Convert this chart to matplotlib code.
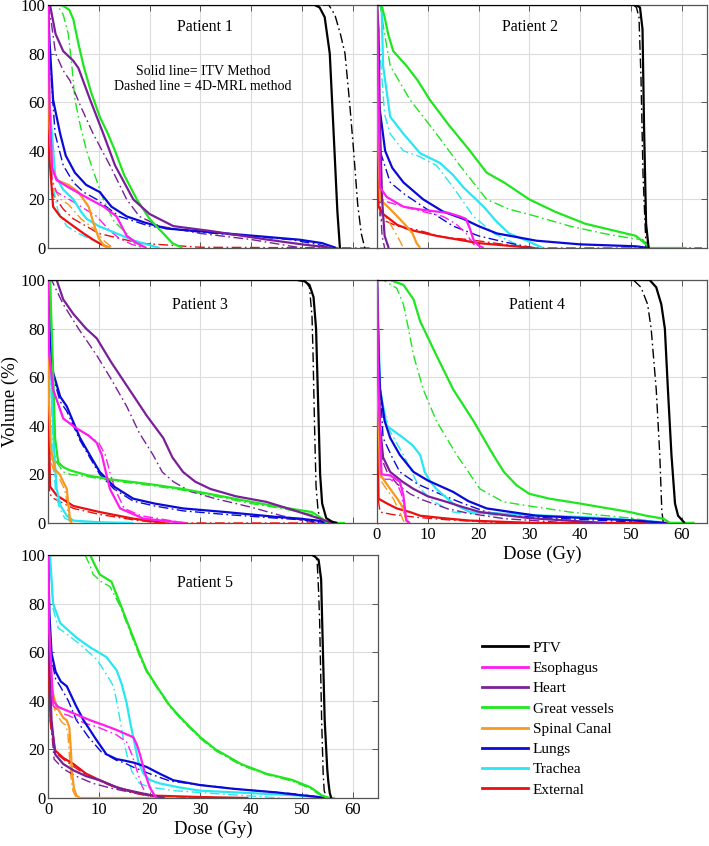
import matplotlib
matplotlib.use("Agg")
import matplotlib.pyplot as plt
from matplotlib.lines import Line2D

plt.rcParams['font.family'] = ['Liberation Serif', 'DejaVu Serif']

structures = ["PTV", "Esophagus", "Heart", "Great vessels", "Spinal Canal", "Lungs", "Trachea", "External"]
colors = ["#000000", "#ff1cf0", "#7a1f9a", "#1fe61f", "#f7981f", "#0a0ad8", "#2ae6f2", "#e81010"]
patients = ["Patient 1", "Patient 2", "Patient 3", "Patient 4", "Patient 5"]
x_ticks = [0, 10, 20, 30, 40, 50, 60]
y_ticks = [0, 20, 40, 60, 80, 100]

# ---------------- Patient 1 (dose Gy, volume %) ----------------
p1_ptv_itv = [(0, 100), (52.5, 100), (53.5, 99), (54.5, 95), (55.5, 80), (56.2, 50), (57, 15), (57.5, 0)]
p1_ptv_4d = [(0, 100), (55.3, 100), (56.5, 96), (57.6, 88), (58.5, 80), (59.4, 60), (60.2, 40), (61, 18), (61.7, 6), (62.4, 0)]
p1_eso_itv = [(0, 100), (0.3, 60), (0.8, 33), (1.7, 28), (4, 25), (8.3, 20), (11, 17), (13.5, 13), (14.5, 9), (15.5, 5), (17.5, 2), (19.4, 0)]
p1_eso_4d = [(0, 100), (0.3, 50), (0.8, 28), (1.7, 23), (5, 19), (9.6, 13), (12, 7.5), (14, 4), (16.5, 1.5), (19, 0)]
p1_heart_itv = [(0, 100), (0.4, 100), (1.5, 88), (3, 81), (5, 77), (6, 74), (8.3, 61), (10.9, 47), (13.2, 34), (16.8, 20), (20, 14), (24.7, 9), (32, 7), (43, 3.5), (50, 1.5), (56, 0)]
p1_heart_4d = [(0, 100), (0.5, 95), (1.5, 80), (3, 73), (4.3, 69), (6.5, 58), (8.9, 47), (12.2, 34), (15.5, 20), (18, 13), (22, 9), (30, 6), (40, 3.5), (50, 0)]
p1_gv_itv = [(0, 100), (1.5, 100), (2.7, 100), (4.2, 98), (5, 94), (6, 84), (7, 75), (8.5, 64), (10.2, 54), (11.8, 47), (13.2, 40), (15, 30), (17.5, 20), (20, 12), (22.7, 6), (24.5, 2), (26.5, 0)]
p1_gv_4d = [(0, 100), (1.8, 100), (3, 96), (4, 88), (4.7, 75), (5.3, 61), (6.4, 50), (7.6, 40), (9.2, 30), (10.9, 20), (13, 11), (15.5, 6), (17, 2), (18.5, 0)]
p1_sc_itv = [(0, 100), (0.3, 50), (0.8, 33), (1.7, 28), (4, 26), (6, 23), (7, 20), (8, 17), (9, 10), (10, 4), (11, 1), (12.2, 0)]
p1_sc_4d = [(0, 100), (0.3, 40), (1, 25), (2.5, 20), (4, 18), (6.5, 12), (9, 8), (11, 3), (12.8, 0)]
p1_lung_itv = [(0, 100), (0.3, 85), (1, 61), (2.4, 47), (3.5, 38), (5.3, 31), (7.5, 26), (10.2, 23), (12.5, 17), (15.5, 13), (19, 10.5), (23.4, 8), (35, 6), (49.6, 3.4), (54, 2), (56.8, 0)]
p1_lung_4d = [(0, 100), (0.3, 80), (1.4, 47), (3, 34), (5, 27), (7, 23), (9.6, 20), (14, 13), (20, 9), (30, 6.5), (42, 4.5), (48, 3.4), (53, 1.5), (56, 0)]
p1_tra_itv = [(0, 100), (0.3, 60), (1.4, 30), (3, 24), (5, 20), (6.5, 15), (7.6, 12), (10, 9), (13.5, 6), (17, 3), (22, 0)]
p1_tra_4d = [(0, 100), (0.2, 50), (1, 25), (2, 15), (3.7, 9), (6, 6), (9, 3), (12.2, 0)]
p1_ext_itv = [(0, 100), (0.2, 40), (1, 17), (2.4, 13), (5, 9), (7, 6), (8.9, 3.4), (10.5, 1.5), (12.2, 0)]
p1_ext_4d = [(0, 100), (0.2, 45), (1, 22), (3, 16), (5, 12), (10, 6), (18, 2), (30, 0.3), (64, 0)]

# ---------------- Patient 2 ----------------
p2_ptv_itv = [(0, 100), (51, 100), (51.8, 99), (52.3, 90), (52.6, 50), (53, 10), (53.5, 0)]
p2_ptv_4d = [(0, 100), (50.5, 100), (51.1, 99), (51.6, 95), (52, 70), (52.4, 30), (53, 0)]
p2_eso_itv = [(0, 100), (0.3, 60), (0.6, 25), (1.9, 21), (5.2, 17), (8, 16), (11.7, 15), (14, 14.5), (16.3, 13), (17.5, 12), (18.3, 8), (19, 3.4), (20, 1), (21, 0)]
p2_eso_4d = [(0, 100), (0.3, 50), (0.6, 20), (2, 19), (5.2, 17), (9, 15), (13, 13), (15.5, 10), (17.6, 6), (18.5, 3), (19.6, 0)]
p2_heart_itv = [(0, 100), (0.3, 90), (0.6, 50), (1, 20), (1.5, 5), (2.3, 0)]
p2_heart_4d = [(0, 100), (0.3, 60), (0.6, 20), (1, 5), (1.5, 0)]
p2_gv_itv = [(0, 100), (0.9, 100), (1.5, 95), (2.2, 88), (3.2, 81), (5.8, 75), (8, 69), (10.4, 61), (14, 51), (18.3, 40), (21.6, 31), (25, 27), (30, 20), (35, 15), (41, 10), (46, 7.5), (51, 5), (53, 1.5), (53.7, 0), (61, 0)]
p2_gv_4d = [(0, 100), (0.6, 100), (1.5, 88), (2.6, 75), (6.5, 61), (11.7, 47), (16.3, 34), (21.6, 20), (26, 16), (31.4, 13), (38, 9), (44.6, 6), (50, 4), (52.4, 3.4), (53.5, 0)]
p2_lung_itv = [(0, 100), (0.3, 61), (1.6, 40), (3, 33), (5.2, 27), (9.1, 20), (13, 15), (17, 12), (20, 9), (23.6, 6), (31.4, 3), (40, 1.5), (51, 0.7), (53.5, 0)]
p2_lung_4d = [(0, 100), (0.3, 55), (0.6, 40), (2.6, 27), (5.5, 22), (9.1, 17), (12, 13), (15, 9), (20, 5), (25, 2.5), (31, 0)]
p2_tra_itv = [(0, 100), (0.9, 100), (1.2, 75), (2.6, 54), (5.2, 47), (8.5, 39), (12.4, 35), (15, 30), (17, 25), (21, 17), (23.5, 11), (26, 6), (29.5, 3), (32.7, 0)]
p2_tra_4d = [(0, 100), (0.6, 80), (1.5, 55), (2.6, 47), (5.2, 40), (8, 38), (11.7, 34), (15, 25), (19, 13), (23, 6), (26, 3), (28.8, 0)]
p2_sc_itv = [(0, 100), (0.3, 40), (0.6, 20), (2.6, 16), (4, 13), (5.8, 9), (7, 6), (7.8, 2), (8.5, 0)]
p2_sc_4d = [(0, 100), (0.3, 30), (0.6, 15), (2, 12), (4, 5), (5.2, 0)]
p2_ext_itv = [(0, 100), (0.1, 40), (0.3, 17), (1.2, 14), (4, 9.5), (6.5, 7.5), (11.7, 5), (20, 2), (31, 0)]
p2_ext_4d = [(0, 100), (0.1, 35), (0.6, 12), (4, 9), (7.8, 7.5), (13, 4.5), (18.3, 3.4), (25, 1.5), (31, 0), (64, 0)]

# ---------------- Patient 3 ----------------
p3_ptv_itv = [(0, 100), (49, 100), (50.5, 99.5), (51.5, 98), (52.3, 93), (52.8, 80), (53.2, 50), (53.6, 20), (54, 8), (54.8, 2), (56, 0.5), (57, 0)]
p3_ptv_4d = [(0, 100), (49, 100), (50.7, 99.5), (51.5, 97), (52, 85), (52.2, 70), (52.5, 40), (52.8, 15), (53.2, 5), (53.7, 1), (54.3, 0)]
p3_eso_itv = [(0, 100), (0.2, 70), (1, 55), (3, 43), (5.6, 39), (8, 36), (9.6, 33), (10.6, 28), (11.5, 20), (12.2, 14), (14.2, 6), (18.8, 1.8), (27, 0)]
p3_eso_4d = [(0, 100), (0.2, 70), (1, 55), (3, 43), (5.6, 39), (8, 36), (10, 33), (11.3, 28), (12.3, 20), (13.2, 14), (15, 6), (18.3, 3), (27, 0)]
p3_heart_itv = [(0, 100), (1.7, 100), (3, 92), (5, 86), (7.5, 80), (9.6, 76), (12.5, 66), (16, 55), (19.5, 44), (22.7, 35), (24.5, 27), (26.6, 21), (29, 17), (32, 14), (37, 11), (43, 8.7), (48, 5.5), (53.5, 1.8), (56, 0)]
p3_heart_4d = [(0, 100), (0.7, 100), (3, 90), (6, 80), (9.6, 69), (12.5, 59), (15.5, 48), (18, 37), (20.7, 28), (22.5, 21), (24.7, 17), (28, 13), (33, 10), (40, 6.5), (46, 3), (52.5, 0)]
p3_gv_itv = [(0, 100), (0.4, 100), (0.9, 69), (1.4, 35), (2, 25), (3, 23), (4.3, 21.7), (8, 19.5), (12.2, 18), (20, 16), (26.6, 14), (33, 11.5), (40, 8.7), (46, 6.5), (52, 4.5), (54, 1.8), (55, 0), (58.5, 0)]
p3_gv_4d = [(0, 100), (0.4, 100), (0.8, 65), (1.2, 30), (1.7, 25), (3, 21), (4.5, 20), (8, 19), (12.2, 17.5), (20, 15.5), (26.6, 13.5), (33, 11), (40, 8), (46, 6), (52, 3.5), (54, 1), (55, 0)]
p3_sc_itv = [(0, 100), (0.2, 50), (0.6, 30), (1.4, 22), (2.3, 20), (3, 17), (3.7, 14), (4.1, 6), (4.3, 2), (4.7, 0)]
p3_sc_4d = [(0, 100), (0.2, 45), (0.6, 25), (1.4, 20), (2.3, 18), (3, 15), (3.5, 12), (3.9, 5), (4.2, 1), (4.6, 0)]
p3_lung_itv = [(0, 100), (0.3, 80), (1, 62), (2.4, 52), (3.7, 48), (6.3, 35), (8.5, 27), (10.2, 21), (13, 15), (16.8, 10), (21, 8), (26.6, 6), (35, 4.5), (45, 2.5), (49.6, 1.8), (53, 1), (55, 0)]
p3_lung_4d = [(0, 100), (0.3, 78), (1, 60), (2.4, 50), (3.7, 46), (6.3, 34), (8.5, 26), (10.2, 20), (13, 14), (16.8, 9), (21, 7), (26.6, 5), (35, 3.5), (45, 2), (50, 1.3), (54, 0)]
p3_tra_itv = [(0, 100), (0.4, 100), (0.7, 55), (1.2, 30), (1.7, 14), (2.5, 7), (3.7, 3), (5, 1), (10, 0.3), (16.8, 0)]
p3_tra_4d = [(0, 100), (0.3, 100), (0.6, 55), (1, 28), (1.5, 12), (2.3, 6), (3.3, 2), (4.5, 0.8), (10, 0.2), (16, 0)]
p3_ext_itv = [(0, 100), (0.1, 50), (0.4, 15), (1.7, 11.4), (5, 7), (10.2, 4.5), (16.8, 1.8), (23, 0)]
p3_ext_4d = [(0, 100), (0.1, 45), (0.3, 12), (1.2, 10), (5, 6), (10.2, 3.5), (16.8, 1.3), (22, 0), (58, 0)]

# ---------------- Patient 4 ----------------
p4_ptv_itv = [(0, 100), (53.7, 100), (55, 97), (56, 90), (56.7, 80), (57.3, 55), (58, 28), (58.7, 8), (59.3, 3), (60.6, 0)]
p4_ptv_4d = [(0, 100), (50.5, 100), (52, 97), (53.3, 90), (54, 80), (55, 55), (55.7, 28), (56.1, 5), (56.4, 0)]
p4_eso_itv = [(0, 100), (0.2, 60), (0.9, 20), (2.6, 19.6), (4.5, 17), (5.2, 11.4), (5.6, 4), (5.8, 1), (6.5, 0)]
p4_eso_4d = [(0, 100), (0.2, 55), (0.9, 18), (2.6, 18), (4, 16), (4.8, 12), (5.4, 4), (5.8, 1), (6.2, 0)]
p4_heart_itv = [(0, 100), (0.3, 70), (0.6, 40), (1.2, 27), (2.6, 21), (5, 17), (7.2, 14), (10, 11), (13.7, 8.7), (17, 6.5), (20.3, 4.5), (30, 2), (45, 0)]
p4_heart_4d = [(0, 100), (0.3, 60), (0.6, 35), (1.2, 25), (2, 21), (4, 16), (6.5, 12), (9, 9.5), (13.7, 6), (18, 4), (25, 1.8), (38, 0)]
p4_gv_itv = [(0, 100), (2.6, 100), (5.2, 98), (7.2, 92), (8.5, 83), (11.7, 69), (15, 55), (19, 42), (22.9, 28), (25, 21), (27.5, 15.5), (30, 12), (34, 10), (40, 8), (49.8, 4.5), (53, 3), (56.4, 1.8), (57.7, 0), (62.5, 0)]
p4_gv_4d = [(0, 100), (1.2, 100), (3.9, 96.6), (5.2, 90), (6.2, 80), (7.2, 69), (9.1, 55), (11.7, 42), (15.7, 28), (20.3, 14), (24.9, 8.7), (30, 7), (38, 4.5), (50, 2), (56.5, 0)]
p4_sc_itv = [(0, 100), (0.2, 50), (0.6, 20), (2.6, 14), (4, 10), (5.2, 6), (5.8, 1), (6.2, 0)]
p4_sc_4d = [(0, 100), (0.2, 45), (0.9, 17), (2.2, 13), (3.2, 10), (4.4, 5), (5.2, 1), (5.5, 0)]
p4_lung_itv = [(0, 100), (0.3, 70), (0.6, 55), (1.5, 42), (2.6, 35), (4.5, 28), (7.2, 21), (10, 17.5), (15, 12.8), (18, 9), (21.6, 6), (31.4, 3), (45, 1.6), (51, 1), (57, 0)]
p4_lung_4d = [(0, 100), (0.3, 65), (0.8, 50), (1.2, 35), (3, 27), (4.5, 21), (8, 16), (13, 11.4), (17, 8), (21.6, 4.5), (30, 2.5), (45, 1), (54.5, 0)]
p4_tra_itv = [(0, 100), (0.3, 80), (0.6, 55), (1.9, 40), (5.2, 35), (7, 32), (8.5, 28), (9.4, 21), (10.5, 17), (11.7, 14), (15, 8), (18.3, 4.5), (25, 3.8), (31.4, 3.2), (45, 2), (55, 0.5), (56.5, 0)]
p4_tra_4d = [(0, 100), (0.3, 70), (0.9, 50), (2.5, 38), (5.2, 28), (8.5, 14), (11, 9), (15, 4.5), (25, 3), (35, 1.8), (44.5, 0)]
p4_ext_itv = [(0, 100), (0.1, 40), (0.3, 10), (2, 8), (3.9, 6), (6.5, 4.5), (8.5, 3), (13, 2), (18.3, 1), (31, 0), (62.5, 0)]
p4_ext_4d = [(0, 100), (0.1, 35), (0.3, 9), (0.6, 4.5), (3, 3.5), (8, 2.3), (14, 1.3), (25, 0)]

# ---------------- Patient 5 ----------------
p5_ptv_itv = [(0, 100), (52.2, 100), (53.3, 98), (53.8, 90), (54, 73), (54.5, 32), (55, 12), (55.2, 7), (55.5, 2), (55.8, 0)]
p5_ptv_4d = [(0, 100), (52, 100), (53, 98), (53.3, 85), (53.5, 73), (53.9, 32), (54.2, 10), (54.4, 3), (54.9, 0)]
p5_eso_itv = [(0, 100), (0.2, 70), (1, 40), (2, 37.5), (3.7, 36), (6, 34), (8.3, 32), (11, 30), (13.5, 28), (16.8, 25), (17.5, 22), (18.1, 18), (19, 11), (20, 4.5), (21, 1), (21.4, 0)]
p5_eso_4d = [(0, 100), (0.2, 65), (1, 38), (2.5, 35), (4, 34), (7, 31), (10, 29), (13.5, 26), (15.5, 23), (16.5, 18), (17.5, 11.4), (18.5, 5), (19.5, 1), (19.8, 0)]
p5_heart_itv = [(0, 100), (0.2, 60), (0.7, 32), (1.4, 18), (3, 14), (5, 11.4), (7.5, 9), (10.2, 7.3), (14, 4), (18.8, 1.8), (23, 0)]
p5_heart_4d = [(0, 100), (0.2, 55), (0.6, 30), (1.2, 16), (3, 12), (5.5, 9), (8.9, 6), (12.5, 4), (17, 2), (22, 0)]
p5_gv_itv = [(0, 100), (8.3, 100), (9.2, 96), (10.2, 92), (12.5, 89), (14.2, 80), (16.8, 66), (18.3, 58), (19.4, 52.6), (21.4, 46), (24, 38), (26.6, 32), (30, 25), (33, 20), (38, 14), (43, 10), (48, 7.5), (51.6, 4.5), (53, 2.5), (54, 1), (55.5, 0), (56.5, 0)]
p5_gv_4d = [(0, 100), (7.3, 100), (8.2, 96), (8.9, 92), (10.5, 89), (12.2, 87), (14.2, 79), (16.8, 65), (18.3, 57), (19.4, 52), (21.4, 45.5), (24, 37.5), (26.6, 31.5), (30, 24.5), (33, 19.5), (38, 13.5), (43, 9.7), (48, 7), (51.6, 4), (53, 2), (54, 0.8), (55, 0)]
p5_sc_itv = [(0, 100), (0.2, 70), (0.7, 45), (1.7, 37.5), (3, 33), (3.7, 32), (4.2, 29), (4.5, 20), (4.7, 11.4), (5.1, 4), (5.6, 1), (6.3, 0), (25, 0)]
p5_sc_4d = [(0, 100), (0.2, 65), (0.6, 42), (1.5, 35), (2.8, 31), (3.5, 30), (3.9, 27), (4.2, 18), (4.5, 9), (4.9, 3), (5.4, 0.8), (6, 0)]
p5_lung_itv = [(0, 100), (0.3, 75), (0.7, 59.5), (1.5, 52), (2.5, 48), (3.7, 46), (5.5, 38), (7, 32), (9.5, 24), (11.5, 18), (13.5, 16), (14.8, 15.5), (17, 14.5), (19.4, 12.8), (22, 10), (24.7, 7.3), (30, 5.3), (36.5, 3.8), (45, 2.3), (49.6, 1.2), (53, 0.5), (54.5, 0)]
p5_lung_4d = [(0, 100), (0.3, 72), (0.7, 57), (1.5, 49), (2.4, 46), (4, 40), (5.6, 32), (8, 25), (10.5, 19), (13.5, 15.5), (15, 14.5), (17, 12.5), (20, 10), (24, 7), (29.5, 5.5), (38, 3.5), (48, 1.8), (52.5, 0.7), (54, 0)]
p5_tra_itv = [(0, 100), (0.4, 100), (1, 80), (2.4, 72), (4, 69), (5.6, 66), (8.3, 62), (11.5, 58), (13.5, 52.6), (14.5, 47), (15.5, 39), (16.2, 31), (16.8, 25), (17.8, 15), (18.8, 10), (20, 7.5), (22, 6), (26, 4.3), (30, 3), (40, 2), (49.6, 1), (53, 0.3), (54, 0)]
p5_tra_4d = [(0, 100), (0.4, 100), (1, 78), (2, 70), (4, 67), (7, 62), (9.6, 57), (11.5, 51), (12.9, 46), (13.7, 38), (14.2, 32), (14.8, 25), (15.5, 18), (16.5, 11), (18, 6), (20, 4.5), (25, 3), (35, 1.5), (46, 0)]
p5_ext_itv = [(0, 100), (0.1, 60), (0.5, 32), (1.4, 19.6), (3, 16.5), (5, 14), (7.5, 10), (10.2, 7.3), (13, 4.8), (15.5, 3.2), (18, 1.8), (20.5, 1), (30, 0.4), (39.5, 0)]
p5_ext_4d = [(0, 100), (0.1, 55), (0.5, 30), (1.3, 19), (3, 16), (5, 13), (7.5, 9.5), (10.2, 7), (13, 4.5), (15.5, 3), (18, 1.6), (21, 0.8), (30, 0.2), (38, 0)]

itv_data = [
    [p1_ptv_itv, p1_eso_itv, p1_heart_itv, p1_gv_itv, p1_sc_itv, p1_lung_itv, p1_tra_itv, p1_ext_itv],
    [p2_ptv_itv, p2_eso_itv, p2_heart_itv, p2_gv_itv, p2_sc_itv, p2_lung_itv, p2_tra_itv, p2_ext_itv],
    [p3_ptv_itv, p3_eso_itv, p3_heart_itv, p3_gv_itv, p3_sc_itv, p3_lung_itv, p3_tra_itv, p3_ext_itv],
    [p4_ptv_itv, p4_eso_itv, p4_heart_itv, p4_gv_itv, p4_sc_itv, p4_lung_itv, p4_tra_itv, p4_ext_itv],
    [p5_ptv_itv, p5_eso_itv, p5_heart_itv, p5_gv_itv, p5_sc_itv, p5_lung_itv, p5_tra_itv, p5_ext_itv],
]
mrl_data = [
    [p1_ptv_4d, p1_eso_4d, p1_heart_4d, p1_gv_4d, p1_sc_4d, p1_lung_4d, p1_tra_4d, p1_ext_4d],
    [p2_ptv_4d, p2_eso_4d, p2_heart_4d, p2_gv_4d, p2_sc_4d, p2_lung_4d, p2_tra_4d, p2_ext_4d],
    [p3_ptv_4d, p3_eso_4d, p3_heart_4d, p3_gv_4d, p3_sc_4d, p3_lung_4d, p3_tra_4d, p3_ext_4d],
    [p4_ptv_4d, p4_eso_4d, p4_heart_4d, p4_gv_4d, p4_sc_4d, p4_lung_4d, p4_tra_4d, p4_ext_4d],
    [p5_ptv_4d, p5_eso_4d, p5_heart_4d, p5_gv_4d, p5_sc_4d, p5_lung_4d, p5_tra_4d, p5_ext_4d],
]

W, H = 709, 846
fig = plt.figure(figsize=(W / 100, H / 100), dpi=100)

# axes rectangles in pixels: (left, top); common width/height
ax_w, ax_h = 330, 243
rects = [(48, 5), (377, 5), (48, 280), (377, 280), (48, 555)]
title_pos = [(0.476, 0.909), (0.464, 0.909), (0.46, 0.897), (0.485, 0.897), (0.476, 0.885)]
axes = []
for (lx, ty) in rects:
    ax = fig.add_axes([lx / W, 1 - (ty + ax_h) / H, ax_w / W, ax_h / H])
    axes.append(ax)

draw_order = [7, 6, 5, 4, 3, 2, 1, 0]
for i, ax in enumerate(axes):
    for k in draw_order:
        d = itv_data[i][k]
        m = mrl_data[i][k]
        ax.plot([p[0] for p in m], [p[1] for p in m], color=colors[k], lw=1.0,
                linestyle=(0, (7, 2.5, 1.2, 2.5)), zorder=3)
        ax.plot([p[0] for p in d], [p[1] for p in d], color=colors[k], lw=1.6,
                linestyle='-', zorder=4, solid_capstyle='butt')
    ax.set_xlim(0, 65)
    ax.set_ylim(0, 100)
    ax.set_xticks(x_ticks)
    ax.set_yticks(y_ticks)
    ax.grid(True, color='#dcdcdc', lw=0.8, zorder=0)
    ax.set_axisbelow(True)
    ax.tick_params(direction='in', length=4, width=0.7, color='#555555',
                   top=True, right=True, labelsize=12, pad=3)
    ax.tick_params(axis='y', pad=2)
    for s in ax.spines.values():
        s.set_color('#555555')
        s.set_linewidth(0.9)
    tx, ty = title_pos[i]
    ax.text(tx, ty, patients[i], transform=ax.transAxes,
            ha='center', va='center', fontsize=11.5)
    if i in (1, 3):
        ax.tick_params(labelleft=False)
    if i in (0, 1, 2):
        ax.tick_params(labelbottom=False)
    if i in (3, 4):
        ax.set_xlabel("Dose (Gy)", fontsize=13.5, labelpad=2)
    if i == 2:
        ax.set_ylabel("Volume (%)", fontsize=13.5)
        ax.yaxis.set_label_coords(-0.088, 0.5)

axes[0].text(0.47, 0.697, "Solid line= ITV Method\nDashed line = 4D-MRL method",
             transform=axes[0].transAxes, ha='center', va='center',
             fontsize=10, linespacing=1.2)

handles = [Line2D([0], [0], color=c, lw=2) for c in colors]
fig.legend(handles, structures, loc='upper left',
           bbox_to_anchor=(476 / W, 1 - 635 / H), frameon=False,
           fontsize=11, handlelength=3.0, handletextpad=0.3,
           labelspacing=0.43, borderaxespad=0)

fig.savefig("out.png", dpi=100)
